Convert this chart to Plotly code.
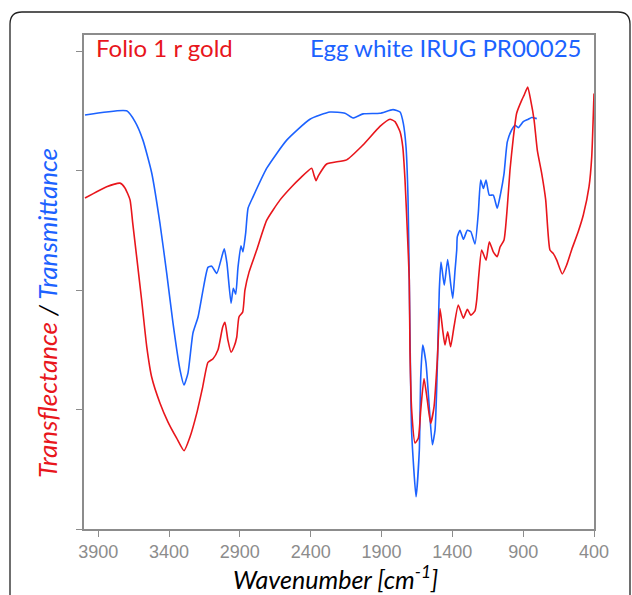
import plotly.graph_objects as go

# Egg white IRUG PR00025 (transmittance)
blue_wn = [3993, 3699, 3640, 3584, 3522, 3464, 3416, 3372, 3322, 3294, 3266, 3231, 3195, 3160,
           3125, 3099, 3063, 3028, 3010, 2991, 2962, 2946, 2929, 2913, 2892, 2878, 2859, 2842,
           2807, 2710, 2569, 2405, 2264, 2158, 2101, 2030, 1911, 1819, 1769, 1746, 1727, 1713,
           1704, 1687, 1656, 1633, 1623, 1609, 1586, 1563, 1541, 1522, 1506, 1492, 1480, 1457,
           1433, 1412, 1397, 1381, 1369, 1365, 1346, 1322, 1294, 1270, 1240, 1217, 1200, 1181,
           1162, 1139, 1111, 1083, 1059, 1035, 1012, 981, 958, 934, 899, 864, 840, 804]
blue_t = [69.3, 70.0, 68.2, 65.1, 59.6, 51.2, 42.8, 34.5, 26.6, 24.1, 26.1, 32.8, 35.5, 40.0,
          43.8, 44.0, 42.8, 45.5, 46.9, 44.5, 37.8, 40.3, 39.3, 43.8, 47.4, 46.4, 49.5, 53.7,
          55.6, 60.4, 65.1, 68.6, 69.8, 69.6, 68.8, 69.5, 69.6, 70.2, 69.8, 67.9, 64.0, 55.6,
          41.7, 16.1, 5.4, 13.2, 25.5, 30.8, 27.8, 20.5, 14.1, 16.6, 27.2, 40.0, 44.7, 40.8,
          45.1, 41.1, 38.6, 43.3, 46.7, 48.9, 50.0, 48.5, 50.0, 49.8, 47.7, 52.8, 58.4, 57.0,
          58.4, 55.9, 55.9, 53.7, 56.2, 59.5, 64.8, 66.8, 67.6, 67.2, 68.2, 68.6, 68.9, 68.7]

# Folio 1 r gold (transflectance)
red_wn = [3993, 3840, 3746, 3711, 3675, 3656, 3628, 3593, 3557, 3522, 3464, 3407, 3346, 3294,
          3252, 3204, 3162, 3125, 3089, 3054, 3021, 3005, 2984, 2962, 2941, 2922, 2906, 2880,
          2864, 2835, 2781, 2710, 2616, 2534, 2475, 2393, 2376, 2362, 2346, 2287, 2146, 2030,
          1911, 1840, 1805, 1769, 1750, 1734, 1718, 1704, 1699, 1687, 1663, 1640, 1623, 1600,
          1577, 1553, 1529, 1506, 1487, 1468, 1452, 1433, 1412, 1388, 1358, 1322, 1294, 1270,
          1240, 1228, 1212, 1193, 1162, 1139, 1111, 1083, 1063, 1035, 1012, 993, 970, 946,
          910, 894, 868, 847, 823, 800, 769, 741, 711, 687, 663, 624, 593, 557, 511, 475,
          435, 416, 400]
red_t = [55.4, 57.3, 57.9, 57.1, 55.1, 51.2, 45.5, 38.3, 30.5, 25.4, 21.1, 17.9, 15.2, 13.1,
         15.4, 19.4, 23.8, 27.9, 28.5, 30.0, 33.8, 34.6, 31.6, 29.6, 30.5, 32.1, 35.5, 36.3,
         40.0, 43.0, 46.7, 51.7, 55.1, 57.3, 58.7, 60.4, 59.2, 58.3, 59.1, 61.1, 61.8, 64.3,
         67.4, 68.6, 68.2, 66.5, 64.0, 58.4, 50.0, 41.7, 30.0, 19.9, 14.4, 15.2, 19.9, 25.2,
         21.6, 17.7, 20.5, 28.3, 36.9, 33.3, 30.8, 33.0, 30.5, 33.9, 37.5, 35.3, 36.8, 35.8,
         36.5, 38.3, 42.8, 46.7, 45.0, 48.1, 46.4, 45.6, 47.2, 48.4, 53.9, 60.1, 65.4, 69.6,
         71.8, 72.6, 74.0, 71.8, 68.5, 63.4, 59.5, 55.1, 46.7, 46.1, 45.0, 42.7, 44.2, 46.8,
         49.8, 52.6, 57.3, 62.3, 72.9]

x_ticks = [3900, 3400, 2900, 2400, 1900, 1400, 900, 400]
y_ticks = [0, 20, 40, 60, 80]

RED = "#e8161c"
BLUE = "#1c62ff"
TXT_FONT = "Lato"

fig = go.Figure()
fig.add_trace(go.Scatter(x=blue_wn, y=blue_t, mode="lines",
                         line=dict(color=BLUE, width=1.6, shape="spline", smoothing=0.5),
                         showlegend=False))
fig.add_trace(go.Scatter(x=red_wn, y=red_t, mode="lines",
                         line=dict(color=RED, width=1.6, shape="spline", smoothing=0.5),
                         showlegend=False))

axis_col = "#8c8c8c"
fig.update_layout(
    width=632, height=595,
    margin=dict(l=84, r=38, t=35, b=66),
    paper_bgcolor="white", plot_bgcolor="white",
    xaxis=dict(range=[4000, 400], tickvals=x_ticks, ticks="outside", ticklen=6,
               tickcolor=axis_col, tickwidth=1.2, showline=True, linecolor=axis_col,
               linewidth=1.5, mirror=True, showgrid=False, zeroline=False,
               tickfont=dict(family="Liberation Sans, Arial", size=18, color="#8c8c8c")),
    yaxis=dict(range=[0, 82.7], tickvals=y_ticks, ticks="outside", ticklen=6,
               tickcolor=axis_col, tickwidth=1.2, showline=True, linecolor=axis_col,
               linewidth=1.5, mirror=True, showgrid=False, zeroline=False,
               showticklabels=False),
)

# outer rounded frame (paper coords)
x0, x1 = (10 - 84) / 510, (630 - 84) / 510
y1, y0 = (529 - 12) / 494, (529 - 620) / 494
rx, ry = 12 / 510, 12 / 494
path = (f"M {x0+rx},{y1} L {x1-rx},{y1} Q {x1},{y1} {x1},{y1-ry} L {x1},{y0} "
        f"L {x0},{y0} L {x0},{y1-ry} Q {x0},{y1} {x0+rx},{y1} Z")
fig.add_shape(type="path", path=path, xref="paper", yref="paper",
              line=dict(color="#222222", width=1.3), fillcolor="rgba(0,0,0,0)")

fig.add_annotation(text="Folio 1 r gold", xref="paper", yref="paper",
                   x=(94 - 84) / 510, y=(529 - 48) / 494, xanchor="left", yanchor="middle",
                   showarrow=False, font=dict(family=TXT_FONT, size=24, color=RED))
fig.add_annotation(text="Egg white IRUG PR00025", xref="paper", yref="paper",
                   x=(583 - 84) / 510, y=(529 - 48) / 494, xanchor="right", yanchor="middle",
                   showarrow=False, font=dict(family=TXT_FONT, size=24, color=BLUE))
fig.add_annotation(text="<i>Wavenumber [cm<sup>-1</sup>]</i>", xref="paper", yref="paper",
                   x=(335 - 84) / 510, y=(529 - 577) / 494, xanchor="center", yanchor="middle",
                   showarrow=False, font=dict(family=TXT_FONT, size=25, color="black"))
fig.add_annotation(text=(f"<i><span style='color:{RED}'>Transflectance</span> / "
                         f"<span style='color:{BLUE}'>Transmittance</span></i>"),
                   xref="paper", yref="paper", textangle=-90,
                   x=(47 - 84) / 510, y=(529 - 313) / 494, xanchor="center", yanchor="middle",
                   showarrow=False, font=dict(family=TXT_FONT, size=26, color="black"))

fig.write_html("out.html")
